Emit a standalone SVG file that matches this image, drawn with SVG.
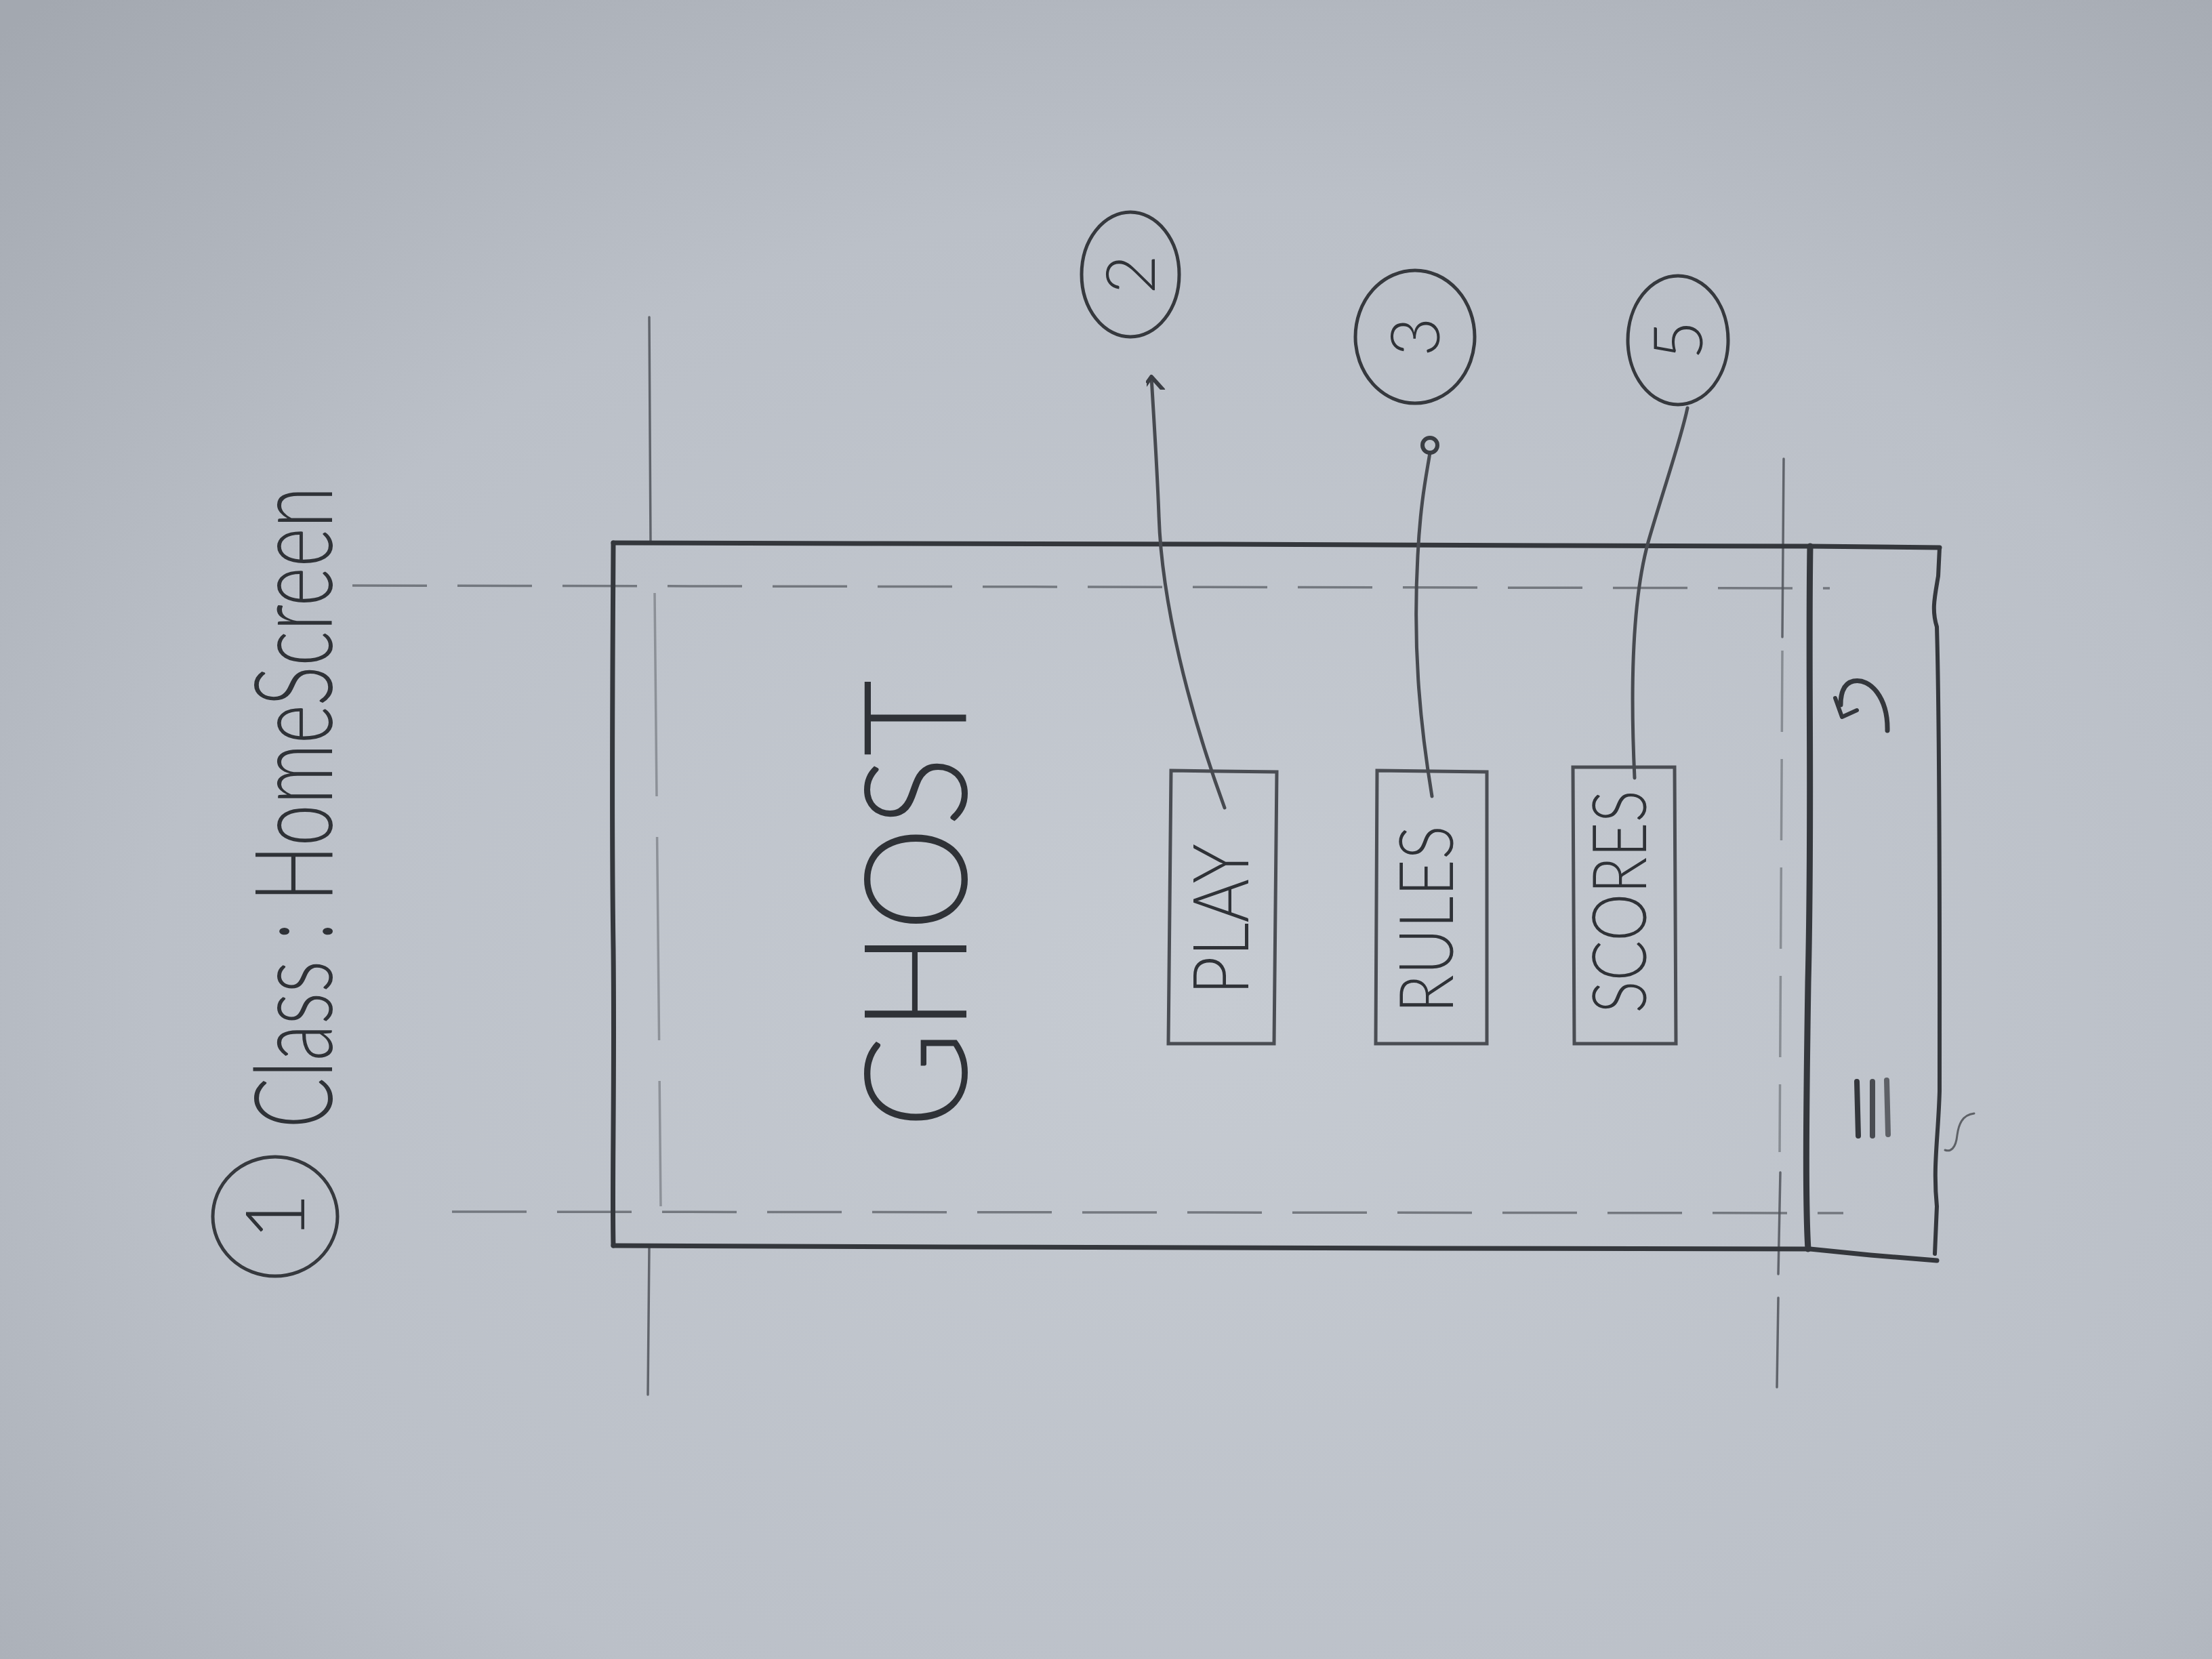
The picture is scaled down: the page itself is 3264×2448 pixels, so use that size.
<svg xmlns="http://www.w3.org/2000/svg" width="3264" height="2448" viewBox="0 0 3264 2448">
<defs>
<radialGradient id="paper" cx="0.55" cy="0.6" r="0.8">
<stop offset="0" stop-color="#c6cbd2"/>
<stop offset="0.6" stop-color="#bbc0c8"/>
<stop offset="1" stop-color="#a3a8b0"/>
</radialGradient>
<marker id="chev" viewBox="0 0 20 20" refX="10" refY="4" markerWidth="8" markerHeight="8" orient="auto-start-reverse" markerUnits="strokeWidth">
<path d="M2,14 L10,4 L18,14" fill="none" stroke="#3a3d43" stroke-width="3" stroke-linecap="round" stroke-linejoin="round" transform="rotate(90 10 4)"/>
</marker>
<style>
.pen{fill:none;stroke:#34373c;stroke-linecap:round;stroke-linejoin:round}
.frame{stroke-width:7}
.box{fill:none;stroke:#4a4d53;stroke-width:5;stroke-linecap:round}
.guide{fill:none;stroke:#50545a;stroke-width:3.5;stroke-linecap:round;opacity:.85}
.dash{fill:none;stroke:#5a5e64;stroke-width:3.5;stroke-dasharray:110 45;opacity:.75}
.conn{fill:none;stroke:#474a50;stroke-width:5;stroke-linecap:round}
.hand{font-family:Lato,"Open Sans","Liberation Sans",sans-serif;font-weight:300;fill:#2f3237}
.circ{fill:none;stroke:#36393e;stroke-width:5}
</style>
</defs>
<rect width="3264" height="2448" fill="url(#paper)"/>

<g id="guides">
<line class="dash" x1="520" y1="864" x2="2700" y2="868"/>
<line class="dash" x1="667" y1="1788" x2="2720" y2="1790"/>
<line class="guide" x1="958" y1="468" x2="960" y2="801"/>
<line class="dash" x1="966" y1="875" x2="975" y2="1780" style="stroke-dasharray:300 60;opacity:.5"/>
<line class="guide" x1="958" y1="1840" x2="956" y2="2058"/>
<line class="guide" x1="2632" y1="677" x2="2630" y2="940"/>
<line class="dash" x1="2630" y1="960" x2="2626" y2="1700" style="stroke-dasharray:120 40;opacity:.55"/>
<line class="guide" x1="2627" y1="1730" x2="2624" y2="1880"/>
<line class="guide" x1="2624" y1="1915" x2="2622" y2="2047"/>
</g>

<g id="phone">
<path class="pen frame" d="M905,801 C904,1000 902,1200 905,1400 C907,1600 903,1750 905,1838"/>
<path class="pen frame" d="M905,801 L1300,802 L1800,803 L2300,805 L2671,806 L2862,808"/>
<path class="pen frame" d="M905,1838 L1400,1840 L2100,1842 L2671,1843 L2760,1852 L2858,1860"/>
</g>

<g id="navbar">
<path class="pen" style="stroke-width:9" d="M2671,806 C2668,1000 2674,1200 2668,1450 C2665,1650 2664,1780 2668,1843"/>
<path class="pen" style="stroke-width:6" d="M2862,808 L2860,850 C2855,880 2850,900 2858,925 C2863,1100 2862,1400 2862,1610 C2860,1680 2852,1720 2858,1780 L2855,1850"/>
<path class="pen" style="stroke-width:7" d="M2785,1078 C2786,1030 2760,1000 2735,1005 C2722,1008 2716,1020 2716,1040"/>
<path class="pen" style="stroke-width:6" d="M2708,1030 L2718,1058 L2740,1048"/>
<line class="pen" style="stroke-width:8" x1="2740" y1="1596" x2="2742" y2="1676"/>
<line class="pen" style="stroke-width:8;opacity:.85" x1="2763" y1="1596" x2="2763" y2="1676"/>
<line class="pen" style="stroke-width:8;opacity:.7" x1="2784" y1="1594" x2="2786" y2="1674"/>
<path class="pen" style="stroke-width:3;opacity:.7" d="M2913,1643 C2895,1645 2890,1660 2888,1675 C2886,1695 2878,1700 2870,1697"/>
</g>

<g id="title">
<text class="hand" font-size="160" textLength="947" lengthAdjust="spacingAndGlyphs" transform="translate(490,1665) rotate(-90)">Class : HomeScreen</text>
</g>

<g id="badge1">
<ellipse class="circ" cx="406" cy="1795" rx="92" ry="88"/>
<text class="hand" font-size="120" text-anchor="middle" transform="translate(449,1795) rotate(-90)">1</text>
</g>

<g id="ghost">
<text class="hand" font-size="211" textLength="662" lengthAdjust="spacingAndGlyphs" transform="translate(1426,1665) rotate(-90)">GHOST</text>
</g>

<g id="btn-play">
<path class="box" d="M1728,1137 L1884,1139 L1880,1540 L1724,1540 Z"/>
<text class="hand" font-size="115" textLength="223" lengthAdjust="spacingAndGlyphs" transform="translate(1842,1468) rotate(-90)">PLAY</text>
</g>

<g id="btn-rules">
<path class="box" d="M2032,1137 L2194,1139 L2194,1540 L2030,1540 Z"/>
<text class="hand" font-size="110" textLength="277" lengthAdjust="spacingAndGlyphs" transform="translate(2144,1495) rotate(-90)">RULES</text>
</g>

<g id="btn-scores">
<path class="box" d="M2321,1132 L2471,1132 L2473,1540 L2323,1540 Z"/>
<text class="hand" font-size="110" textLength="329" lengthAdjust="spacingAndGlyphs" transform="translate(2429,1495) rotate(-90)">SCORES</text>
</g>

<g id="badge2">
<ellipse class="circ" cx="1668" cy="405" rx="72" ry="92"/>
<text class="hand" font-size="100" text-anchor="middle" transform="translate(1704,405) rotate(-90)">2</text>
</g>

<g id="badge3">
<ellipse class="circ" cx="2088" cy="497" rx="88" ry="98"/>
<text class="hand" font-size="100" text-anchor="middle" transform="translate(2124,497) rotate(-90)">3</text>
</g>

<g id="badge5">
<ellipse class="circ" cx="2476" cy="502" rx="74" ry="95"/>
<text class="hand" font-size="100" text-anchor="middle" transform="translate(2512,502) rotate(-90)">5</text>
</g>

<g id="connectors">
<path class="conn" d="M1807,1192 C1755,1050 1714,890 1710,760 C1707,680 1702,610 1699,556" marker-end="url(#chev)"/>
<path class="conn" d="M2113,1175 C2094,1060 2085,950 2092,820 C2096,740 2105,700 2110,668"/>
<circle cx="2110" cy="657" r="11" fill="none" stroke="#3a3d43" stroke-width="6"/>
<path class="conn" d="M2412,1148 C2405,1000 2410,880 2432,800 C2455,720 2480,650 2490,602"/>
</g>
</svg>
